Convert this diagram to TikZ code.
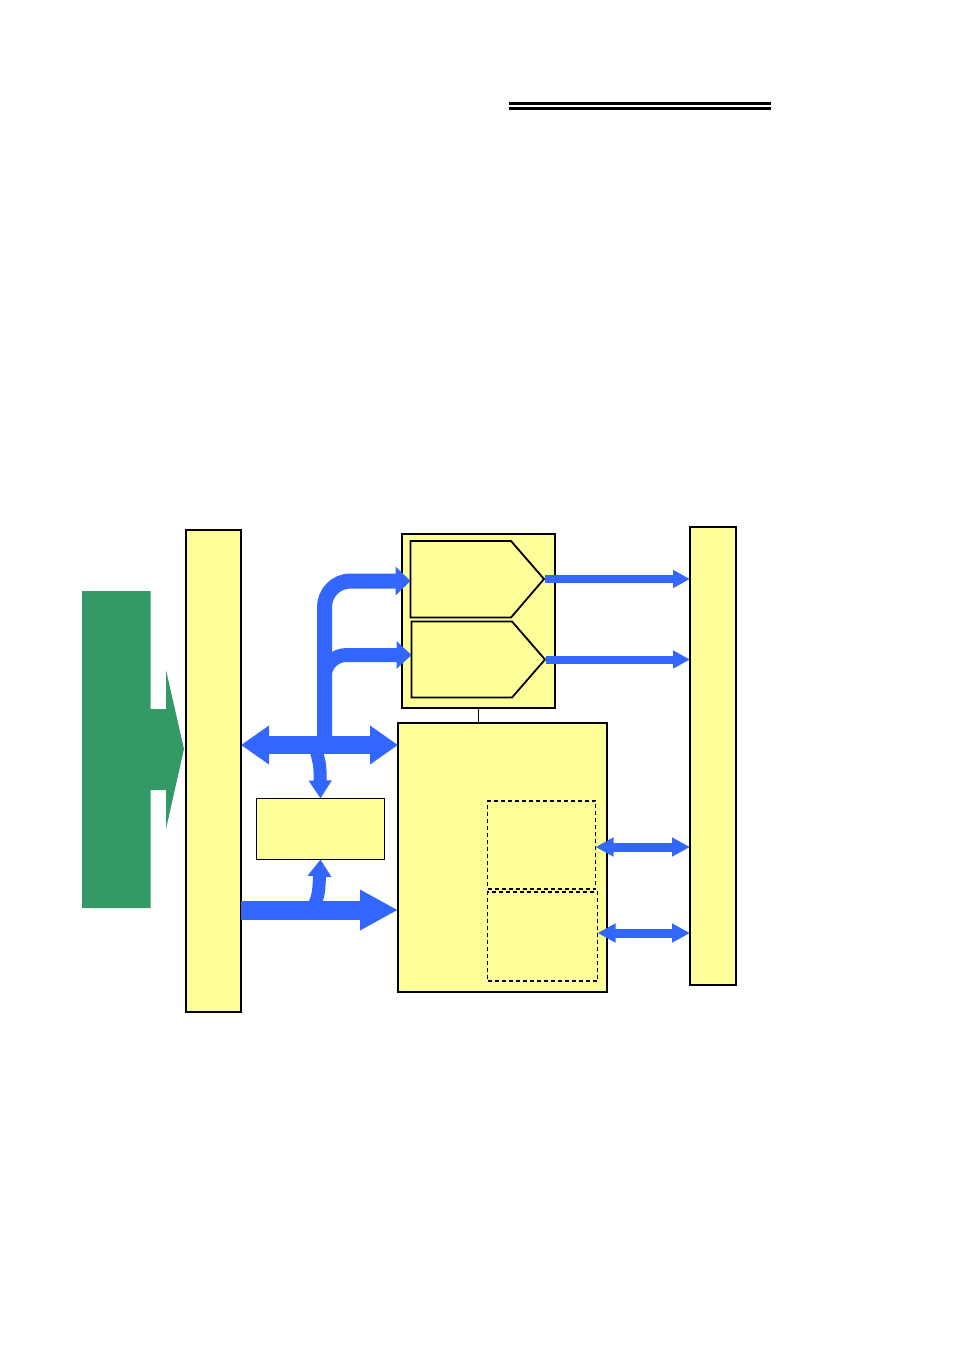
\documentclass[tikz,border=0pt]{standalone}
\usetikzlibrary{arrows.meta}
\definecolor{boxyellow}{HTML}{FFFF99}
\definecolor{busblue}{HTML}{3366FF}
\definecolor{flowgreen}{HTML}{339966}
\begin{document}
\begin{tikzpicture}[x=1pt,y=-1pt,
  blk/.style={draw=black, fill=boxyellow, line width=1.8pt, inner sep=0pt, outer sep=0pt, anchor=north west},
  thinblk/.style={blk, line width=1.5pt},
  dashblk/.style={draw=black, fill=boxyellow, line width=1.3pt, dash pattern=on 4pt off 3pt, inner sep=0pt, outer sep=0pt, anchor=north west},
  pent/.style={draw=black, fill=boxyellow, line width=1.8pt, line join=miter},
  bus/.style={draw=busblue}
]
\useasboundingbox (0,0) rectangle (954,1349);

% title rule
\draw[line width=3pt] (509,103.5) -- (771,103.5);
\draw[line width=3pt] (509,108.5) -- (771,108.5);

% green input arrow
\fill[flowgreen] (82,591) -- (150.5,591) -- (150.5,709) -- (166,709) -- (166,670) -- (184,749)
  -- (166,829) -- (166,790) -- (150.5,790) -- (150.5,908) -- (82,908) -- cycle;

% blocks
\node[blk, minimum width=55pt, minimum height=482pt] (lbar) at (186,530) {};
\node[blk, minimum width=46pt, minimum height=458pt] (rbar) at (690,527) {};
\node[blk, minimum width=153pt, minimum height=174pt] (top) at (402,534) {};
\node[blk, minimum width=209pt, minimum height=269pt] (bigbox) at (398,723) {};
\node[thinblk, minimum width=128pt, minimum height=61pt] (smallbox) at (256.5,798.5) {};
\node[dashblk, minimum width=108pt, minimum height=88pt] (d1) at (487.5,801) {};
\node[dashblk, minimum width=110pt, minimum height=89pt] (d2) at (487.5,892) {};

% pentagons
\draw[pent] (410.5,541) -- (511,541) -- (544,579) -- (511,617.5) -- (410.5,617.5) -- cycle;
\draw[pent] (411.5,621.5) -- (512,621.5) -- (545,659.5) -- (512,697.5) -- (411.5,697.5) -- cycle;
\coordinate (p1tip) at (544.5,579);
\coordinate (p1w) at (410.5,581);
\coordinate (p2tip) at (545.5,659.5);
\coordinate (p2w) at (411.5,655);

% helper levels
\coordinate (yA) at (0,745);
\coordinate (yB) at (0,910);
\coordinate (yC) at (0,847);
\coordinate (yD) at (0,933);

% link between top container and big box
\draw[line width=1pt] (top.south) -- (top.south |- bigbox.north);

% main bidirectional bus
\draw[bus, line width=18pt, {Triangle[length=28pt,width=37pt]}-{Triangle[length=28pt,width=37pt]}]
  (lbar.east |- yA) -- (bigbox.west |- yA);
% trunk to first pentagon
\draw[bus, line width=15pt, rounded corners=26pt, -{Triangle[length=15pt,width=28pt]}]
  (324.5,745) -- (324.5,581) -- (p1w);
% branch to second pentagon
\draw[bus, line width=14pt, rounded corners=22pt, -{Triangle[length=15pt,width=27pt]}]
  (324.5,705) |- (p2w);
% down to small box
\draw[bus, line width=13pt, -{Triangle[length=18pt,width=22pt]}]
  (316,750) .. controls (320,765) .. (smallbox.north);

% lower bus
\draw[bus, line width=19pt, -{Triangle[length=38pt,width=38pt]}]
  (lbar.east |- yB) -- (bigbox.west |- yB);
% up to small box
\draw[bus, line width=13pt, -{Triangle[length=17pt,width=23pt]}]
  (314,906) .. controls (318.5,895) .. (smallbox.south);

% outputs of pentagons
\draw[bus, line width=8pt, -{Triangle[length=17pt,width=17pt]}] (p1tip) -- (rbar.west |- p1tip);
\draw[bus, line width=8pt, -{Triangle[length=17pt,width=17pt]}] (p2tip) -- (rbar.west |- p2tip);

% dashed blocks to right bar
\draw[bus, line width=9pt, {Triangle[length=18pt,width=18pt]}-{Triangle[length=18pt,width=18pt]}]
  (d1.east |- yC) -- (rbar.west |- yC);
\draw[bus, line width=9pt, {Triangle[length=18pt,width=18pt]}-{Triangle[length=18pt,width=18pt]}]
  (d2.east |- yD) -- (rbar.west |- yD);
\end{tikzpicture}
\end{document}
